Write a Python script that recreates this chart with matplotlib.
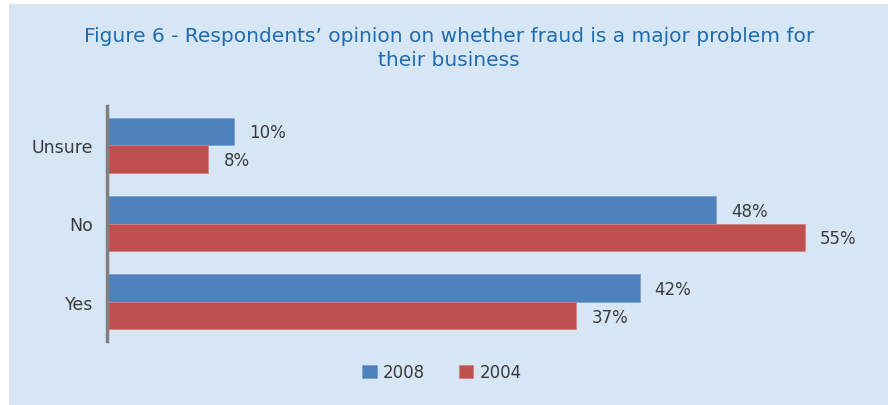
import numpy as np
import matplotlib.pyplot as plt
from matplotlib.patches import Rectangle

plt.rcParams['font.family'] = ['DejaVu Sans']

categories = ['Yes', 'No', 'Unsure']
vals_2008 = [42, 48, 10]
vals_2004 = [37, 55, 8]
series_names = ['2008', '2004']

blue = '#4f81bd'
red = '#c0504d'
panel = '#d7e6f5'
txt = '#3a3a3a'

fig = plt.figure(figsize=(8.88, 4.06), dpi=100, facecolor='white')
# light blue panel behind everything
fig.patches.append(Rectangle((9 / 888, 0), 1, 1 - 5 / 406, transform=fig.transFigure,
                             facecolor=panel, edgecolor='none', zorder=-1))

ax = fig.add_axes([107 / 888, 1 - 342 / 406, 761 / 888, 235 / 406])
ax.set_facecolor('none')

y = np.arange(len(categories))
h = 0.35
b1 = ax.barh(y + h / 2, vals_2008, height=h, color=blue, edgecolor='#7aa0d0', linewidth=0.6, label=series_names[0])
b2 = ax.barh(y - h / 2, vals_2004, height=h, color=red, edgecolor='#d08080', linewidth=0.6, label=series_names[1])

for bars, vals in ((b1, vals_2008), (b2, vals_2004)):
    for bar, v in zip(bars, vals):
        ax.annotate(f'{v}%', (v, bar.get_y() + bar.get_height() / 2),
                    xytext=(15, -1), textcoords='offset pixels',
                    ha='left', va='center', fontsize=12, color=txt)

ax.set_xlim(0, 60)
ax.set_ylim(-0.5, 2.5)
ax.set_yticks(y)
ax.set_yticklabels(categories, fontsize=12.5, color=txt)
ax.tick_params(axis='y', length=0, pad=10)
ax.set_xticks([])
for s in ('top', 'right', 'bottom'):
    ax.spines[s].set_visible(False)
ax.spines['left'].set_color('#808080')
ax.spines['left'].set_linewidth(2.5)

title_color = '#1f6cb0'
fig.text(449 / 888, 1 - 36 / 406, 'Figure 6 - Respondents\u2019 opinion on whether fraud is a major problem for',
         ha='center', va='center', fontsize=14.5, color=title_color)
fig.text(449 / 888, 1 - 60 / 406, 'their business',
         ha='center', va='center', fontsize=14.5, color=title_color)

fig.legend(handles=[b1, b2], loc='center', bbox_to_anchor=(442 / 888, 1 - 373 / 406),
           ncol=2, frameon=False, fontsize=12, handlelength=0.85, handleheight=0.85,
           handletextpad=0.4, columnspacing=2.0, labelcolor=txt)

fig.savefig('out.png', dpi=100, facecolor='white')
